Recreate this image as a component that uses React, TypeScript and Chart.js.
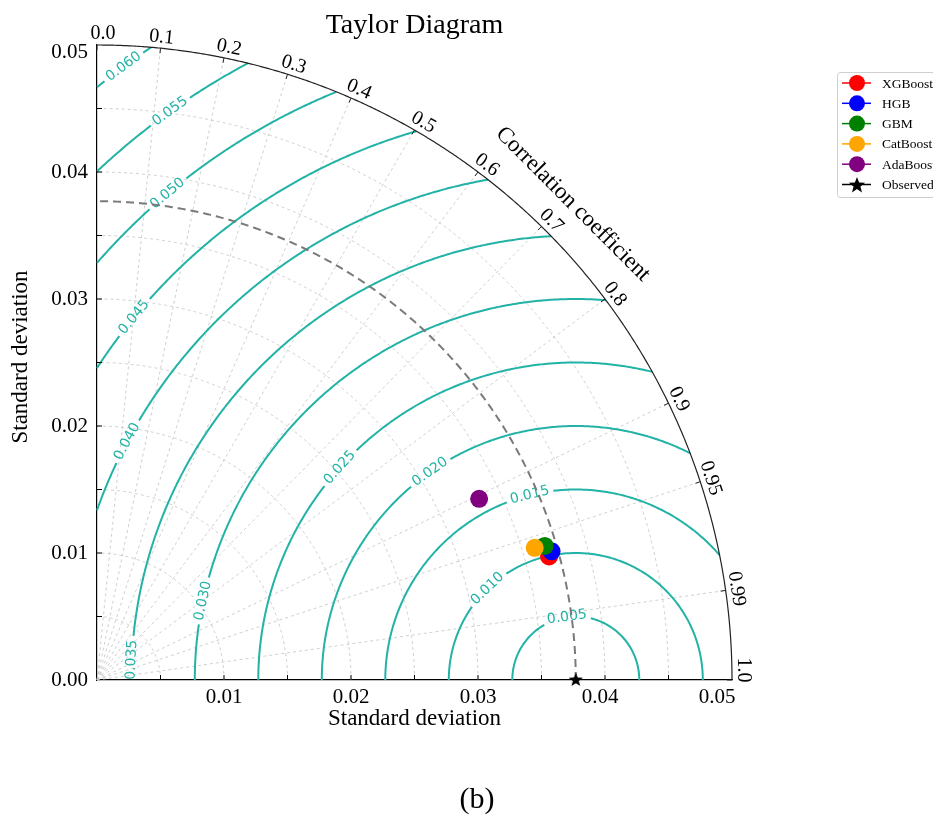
import React, { useEffect, useRef } from 'react';
import { Chart, registerables } from 'chart.js';

Chart.register(...registerables);

// ---- data ----
const modelNames = ['XGBoost', 'HGB', 'GBM', 'CatBoost', 'AdaBoost'];
const modelColors = ['#ff0000', '#0000ff', '#008000', '#ffa500', '#800080'];
const stdDevs = [0.0369, 0.0372, 0.0368, 0.0360, 0.0333];
const correlations = [0.9646, 0.9622, 0.958, 0.9573, 0.9036];
const observedName = 'Observed';
const observedStd = 0.0377;

const stdTicks = [0.0, 0.01, 0.02, 0.03, 0.04, 0.05];
const stdTickLabels = ['0.00', '0.01', '0.02', '0.03', '0.04', '0.05'];
const corrTicks = [0.0, 0.1, 0.2, 0.3, 0.4, 0.5, 0.6, 0.7, 0.8, 0.9, 0.95, 0.99, 1.0];
const corrTickLabels = ['0.0', '0.1', '0.2', '0.3', '0.4', '0.5', '0.6', '0.7', '0.8', '0.9', '0.95', '0.99', '1.0'];
const rmsLevels = [0.005, 0.01, 0.015, 0.02, 0.025, 0.03, 0.035, 0.04, 0.045, 0.05, 0.055, 0.06];

// ---- layout constants ----
// angular position (deg, around observed point) of each contour label
const rmsLabelAngles = [98, 134, 104, 125, 138, 168, 177.4, 152, 140.6, 130, 125.5, 126.4];
// small tangential nudges (px, clockwise) of the correlation tick labels
const corrLabelNudge = [6, 0, 3, 3, 4, 4, 3, 3, 2, 1, 0, 0, -10];
// nudges of the axis tick labels (px)
const xLabelNudge = [0, 0, 0, 0, -5, -15];
const yLabelNudge = [0, 0, 0, 0, 0, 7];

const RMAX = stdTicks[stdTicks.length - 1];
const TEAL = '#22b3a6';
const SERIF = '"Liberation Serif", "Times New Roman", serif';

function makeStar(r: number, size: number) {
  const c = document.createElement('canvas');
  c.width = size;
  c.height = size;
  const g = c.getContext('2d')!;
  g.fillStyle = '#000';
  g.beginPath();
  for (let i = 0; i < 10; i++) {
    const rad = i % 2 === 0 ? r : r * 0.42;
    const a = -Math.PI / 2 + (i * Math.PI) / 5;
    const x = size / 2 + rad * Math.cos(a);
    const y = size / 2 + rad * Math.sin(a);
    if (i === 0) g.moveTo(x, y);
    else g.lineTo(x, y);
  }
  g.closePath();
  g.fill();
  return c;
}

const taylorPlugin = {
  id: 'taylor',
  beforeDatasetsDraw(chart: any) {
    const ctx: CanvasRenderingContext2D = chart.ctx;
    const xs = chart.scales.x;
    const ys = chart.scales.y;
    const P = (x: number, y: number): [number, number] => [xs.getPixelForValue(x), ys.getPixelForValue(y)];
    const ox = xs.getPixelForValue(0);
    const oy = ys.getPixelForValue(0);
    const k = (xs.getPixelForValue(RMAX) - ox) / RMAX;

    const polar = (r: number, a0: number, a1: number, cx = 0) => {
      const n = Math.max(16, Math.ceil((Math.abs(a1 - a0) * r * k) / 2));
      ctx.beginPath();
      for (let j = 0; j <= n; j++) {
        const a = a0 + ((a1 - a0) * j) / n;
        const [X, Y] = P(cx + r * Math.cos(a), r * Math.sin(a));
        if (j === 0) ctx.moveTo(X, Y);
        else ctx.lineTo(X, Y);
      }
      ctx.stroke();
    };

    ctx.save();
    // grid arcs
    ctx.strokeStyle = '#c4c4c4';
    ctx.lineWidth = 0.8;
    ctx.setLineDash([3, 3]);
    for (let s = 0.005; s < RMAX - 1e-9; s += 0.005) {
      polar(s, 0, Math.PI / 2);
    }
    // radial grid lines
    corrTicks.forEach((c) => {
      if (c <= 0 || c >= 1) return;
      const t = Math.acos(c);
      const [X, Y] = P(RMAX * Math.cos(t), RMAX * Math.sin(t));
      ctx.beginPath();
      ctx.moveTo(ox, oy);
      ctx.lineTo(X, Y);
      ctx.stroke();
    });
    ctx.setLineDash([]);

    // RMS contours
    ctx.font = '14px "DejaVu Sans", sans-serif';
    ctx.strokeStyle = TEAL;
    ctx.lineWidth = 2;
    const c = observedStd;
    rmsLevels.forEach((R, i) => {
      const A = (RMAX * RMAX - c * c - R * R) / (2 * c * R);
      const B = -c / R;
      const phiStart = Math.acos(Math.min(1, Math.max(-1, A)));
      const phiEnd = Math.acos(Math.max(-1, Math.min(1, B)));
      if (phiStart >= phiEnd) return;
      const label = R.toFixed(3);
      const w = ctx.measureText(label).width;
      const rpx = R * k;
      const phiL = (rmsLabelAngles[i] * Math.PI) / 180;
      const half = (w / 2 + 4) / rpx;
      const segs: [number, number][] = [
        [phiStart, Math.min(phiEnd, phiL - half)],
        [Math.max(phiStart, phiL + half), phiEnd],
      ];
      segs.forEach(([a, b]) => {
        if (b > a) polar(R, a, b, c);
      });
      const [lx, ly] = P(c + R * Math.cos(phiL), R * Math.sin(phiL));
      ctx.save();
      ctx.translate(lx, ly);
      ctx.rotate(Math.PI / 2 - phiL);
      ctx.fillStyle = TEAL;
      ctx.textAlign = 'center';
      ctx.textBaseline = 'middle';
      ctx.fillText(label, 0, 0);
      ctx.restore();
    });

    // observed std arc
    ctx.strokeStyle = '#7a7a7a';
    ctx.lineWidth = 2;
    ctx.setLineDash([8, 5]);
    polar(observedStd, 0, Math.PI / 2);
    ctx.setLineDash([]);

    // outer arc
    ctx.strokeStyle = '#222';
    ctx.lineWidth = 1.2;
    polar(RMAX, 0, Math.PI / 2);

    // arc ticks
    ctx.lineWidth = 1;
    corrTicks.forEach((cc) => {
      const t = Math.acos(cc);
      const [X1, Y1] = P(RMAX * Math.cos(t), RMAX * Math.sin(t));
      const r2 = RMAX - 5 / k;
      const [X2, Y2] = P(r2 * Math.cos(t), r2 * Math.sin(t));
      ctx.beginPath();
      ctx.moveTo(X1, Y1);
      ctx.lineTo(X2, Y2);
      ctx.stroke();
    });

    // inward axis ticks
    ctx.strokeStyle = '#000';
    for (let s = 0.005; s < RMAX - 1e-9; s += 0.005) {
      const X = xs.getPixelForValue(s);
      ctx.beginPath();
      ctx.moveTo(X, oy);
      ctx.lineTo(X, oy - 5);
      ctx.stroke();
      const Y = ys.getPixelForValue(s);
      ctx.beginPath();
      ctx.moveTo(ox, Y);
      ctx.lineTo(ox + 5, Y);
      ctx.stroke();
    }
    ctx.restore();
  },
  afterDraw(chart: any) {
    const ctx: CanvasRenderingContext2D = chart.ctx;
    const xs = chart.scales.x;
    const ys = chart.scales.y;
    const ox = xs.getPixelForValue(0);
    const oy = ys.getPixelForValue(0);
    const k = (xs.getPixelForValue(RMAX) - ox) / RMAX;
    const Rpx = RMAX * k;
    const area = chart.chartArea;
    const midX = (area.left + area.right) / 2;

    ctx.save();
    ctx.fillStyle = '#000';

    // axis tick labels
    ctx.font = `21px ${SERIF}`;
    ctx.textBaseline = 'middle';
    ctx.textAlign = 'center';
    stdTicks.forEach((v, i) => {
      if (v === 0) return;
      ctx.fillText(stdTickLabels[i], xs.getPixelForValue(v) + xLabelNudge[i], oy + 17);
    });
    ctx.textAlign = 'right';
    stdTicks.forEach((v, i) => {
      ctx.fillText(stdTickLabels[i], ox - 9, ys.getPixelForValue(v) + yLabelNudge[i]);
    });

    // correlation tick labels
    ctx.font = `20px ${SERIF}`;
    ctx.textAlign = 'center';
    corrTicks.forEach((cc, i) => {
      const t = Math.acos(cc);
      const r = Rpx + 11;
      const s = corrLabelNudge[i];
      ctx.save();
      ctx.translate(ox + r * Math.cos(t) + s * Math.sin(t), oy - r * Math.sin(t) + s * Math.cos(t));
      ctx.rotate(Math.PI / 2 - t);
      ctx.fillText(corrTickLabels[i], 0, 0);
      ctx.restore();
    });
    // correlation axis label
    ctx.font = `23px ${SERIF}`;
    {
      const t = Math.PI / 4;
      const r = Rpx + 38;
      ctx.save();
      ctx.translate(ox + r * Math.cos(t), oy - r * Math.sin(t));
      ctx.rotate(Math.PI / 2 - t);
      ctx.fillText('Correlation coefficient', 0, 0);
      ctx.restore();
    }
    // axis titles
    ctx.fillText('Standard deviation', midX, oy + 39);
    ctx.save();
    ctx.translate(21, 357);
    ctx.rotate(-Math.PI / 2);
    ctx.fillText('Standard deviation', 0, 0);
    ctx.restore();
    // title
    ctx.font = `28px ${SERIF}`;
    ctx.textBaseline = 'alphabetic';
    ctx.fillText('Taylor Diagram', midX, 33);
    // caption
    ctx.font = `30px ${SERIF}`;
    ctx.textBaseline = 'middle';
    ctx.fillText('(b)', 477, 800);

    // legend
    const lx = 837;
    const ly = 72;
    ctx.fillStyle = '#fff';
    ctx.strokeStyle = '#cfcfcf';
    ctx.lineWidth = 1;
    ctx.beginPath();
    ctx.roundRect(lx + 0.5, ly + 0.5, 130, 125, 3);
    ctx.fill();
    ctx.stroke();
    const entries = modelNames.map((n, i) => ({ name: n, color: modelColors[i], star: false }));
    entries.push({ name: observedName, color: '#000', star: true });
    ctx.font = `13.5px ${SERIF}`;
    ctx.textAlign = 'left';
    entries.forEach((e, i) => {
      const y = 83 + i * 20.3;
      ctx.strokeStyle = e.color;
      ctx.lineWidth = 1.5;
      ctx.beginPath();
      ctx.moveTo(842, y);
      ctx.lineTo(871, y);
      ctx.stroke();
      ctx.fillStyle = e.color;
      if (e.star) {
        ctx.beginPath();
        for (let j = 0; j < 10; j++) {
          const rad = j % 2 === 0 ? 8.5 : 3.6;
          const a = -Math.PI / 2 + (j * Math.PI) / 5;
          const X = 857 + rad * Math.cos(a);
          const Y = y + 1 + rad * Math.sin(a);
          if (j === 0) ctx.moveTo(X, Y);
          else ctx.lineTo(X, Y);
        }
        ctx.closePath();
        ctx.fill();
      } else {
        ctx.beginPath();
        ctx.arc(857, y, 8, 0, Math.PI * 2);
        ctx.fill();
      }
      ctx.fillStyle = '#000';
      ctx.fillText(e.name, 882, y + 1);
    });
    ctx.restore();
  },
};

export default function App() {
  const ref = useRef<HTMLCanvasElement>(null);
  useEffect(() => {
    if (!ref.current) return;
    const star = makeStar(7.5, 18);
    const datasets: any[] = modelNames.map((name, i) => ({
      label: name,
      data: [
        {
          x: stdDevs[i] * correlations[i],
          y: stdDevs[i] * Math.sqrt(1 - correlations[i] * correlations[i]),
        },
      ],
      backgroundColor: modelColors[i],
      borderColor: modelColors[i],
      borderWidth: 0,
      pointRadius: 9,
      pointHoverRadius: 9,
      order: modelNames.length - i,
      clip: false,
    }));
    datasets.push({
      label: observedName,
      data: [{ x: observedStd, y: 0 }],
      pointStyle: star,
      backgroundColor: '#000',
      borderColor: '#000',
      order: 0,
      clip: false,
    });
    const chart = new Chart(ref.current, {
      type: 'scatter',
      data: { datasets },
      options: {
        responsive: false,
        animation: false,
        devicePixelRatio: 1,
        events: [],
        layout: { padding: { left: 0, top: 45, right: 201, bottom: 78 } },
        plugins: { legend: { display: false }, tooltip: { enabled: false }, title: { display: false } },
        scales: {
          x: {
            type: 'linear',
            min: 0,
            max: RMAX,
            afterFit: (s: any) => {
              s.height = 60;
            },
            afterBuildTicks: (s: any) => {
              s.ticks = stdTicks.map((v) => ({ value: v }));
            },
            grid: { display: false, drawTicks: false },
            border: { display: true, color: '#000', width: 1.2 },
            ticks: { display: false },
          },
          y: {
            type: 'linear',
            min: 0,
            max: RMAX,
            afterFit: (s: any) => {
              s.width = 97;
            },
            afterBuildTicks: (s: any) => {
              s.ticks = stdTicks.map((v) => ({ value: v }));
            },
            grid: { display: false, drawTicks: false },
            border: { display: true, color: '#000', width: 1.2 },
            ticks: { display: false },
          },
        },
      },
      plugins: [taylorPlugin],
    } as any);
    return () => chart.destroy();
  }, []);
  return (
    <div style={{ position: 'absolute', left: 0, top: 0, width: 933, height: 818, background: '#fff' }}>
      <canvas ref={ref} width={933} height={818} style={{ display: 'block' }} />
    </div>
  );
}
